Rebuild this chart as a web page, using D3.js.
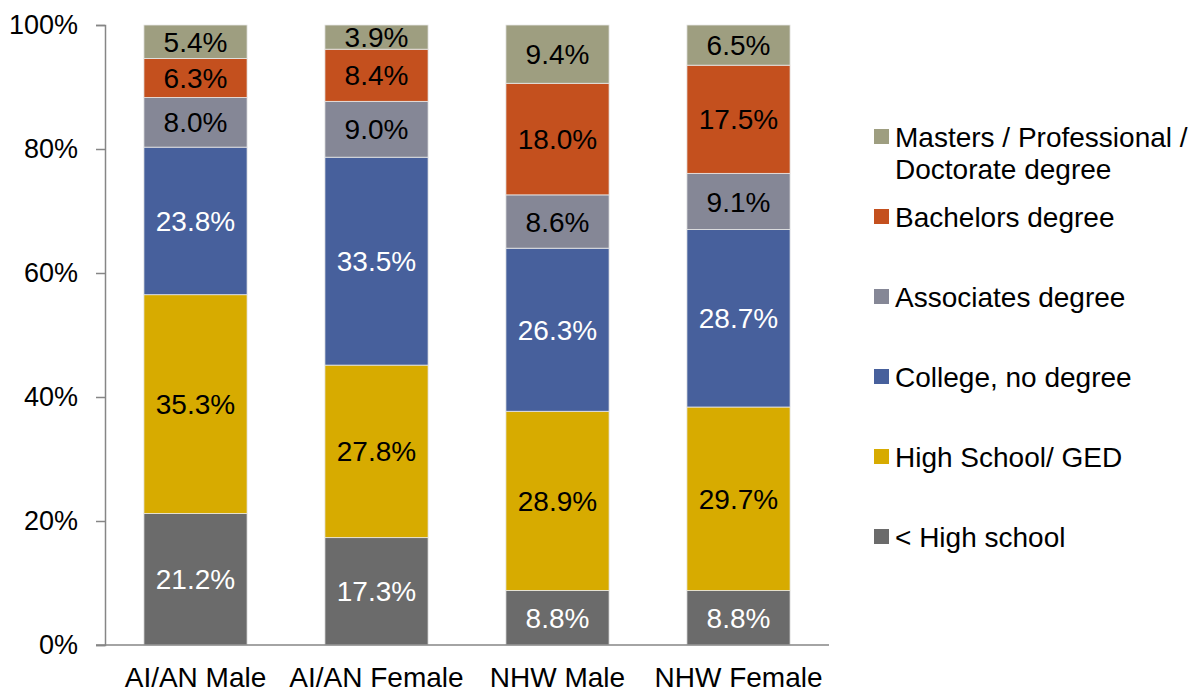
<!DOCTYPE html>
<html>
<head>
<meta charset="utf-8">
<script src="https://cdn.jsdelivr.net/npm/d3@7"></script>
<style>
  body { margin: 0; background: #fff; }
  svg { display: block; font-family: "Liberation Sans", Arial, sans-serif; }
</style>
</head>
<body>
<div id="vis"></div>
<script>
// groups along the x axis
const groups = ["AI/AN Male", "AI/AN Female", "NHW Male", "NHW Female"];
// education levels, bottom to top
const levels = ["< High school", "High School/ GED", "College, no degree",
  "Associates degree", "Bachelors degree", "Masters / Professional / Doctorate degree"];
// percent values per level, in group order
const lessHS     = [21.2, 17.3, 8.8, 8.8];
const highSchool = [35.3, 27.8, 28.9, 29.7];
const college    = [23.8, 33.5, 26.3, 28.7];
const associates = [8.0, 9.0, 8.6, 9.1];
const bachelors  = [6.3, 8.4, 18.0, 17.5];
const masters    = [5.4, 3.9, 9.4, 6.5];
const yTicks = [0, 0.2, 0.4, 0.6, 0.8, 1.0];

const series = [lessHS, highSchool, college, associates, bachelors, masters];
const colors = ["#6b6b6b", "#d7ab00", "#47609c", "#858796", "#c4501e", "#9e9e80"];
const labelColors = ["#fff", "#000", "#fff", "#000", "#000", "#000"];

const width = 1196, height = 692;
const margin = {top: 25, left: 105, bottom: 47};
const plotRight = 829;

// table for d3.stack
const table = groups.map((g, i) => {
  const row = {group: g};
  levels.forEach((l, j) => row[l] = series[j][i]);
  return row;
});

const stacked = d3.stack().keys(levels).offset(d3.stackOffsetExpand)(table);

const x = d3.scaleBand().domain(groups).range([margin.left, plotRight]).paddingInner(0.43).paddingOuter(0.215);
const y = d3.scaleLinear().domain([0, 1]).range([height - margin.bottom, margin.top]);

const svg = d3.select("#vis").append("svg")
    .attr("width", width)
    .attr("height", height);

// bars
const layer = svg.append("g")
  .selectAll("g")
  .data(stacked)
  .join("g")
    .attr("fill", (d, i) => colors[i]);

layer.selectAll("rect")
  .data(d => d)
  .join("rect")
    .attr("x", d => x(d.data.group))
    .attr("width", x.bandwidth())
    .attr("y", d => y(d[1]))
    .attr("height", d => y(d[0]) - y(d[1]))
    .attr("stroke", "#e8e8e8")
    .attr("stroke-width", 0.8);

// value labels
stacked.forEach((s, i) => {
  svg.append("g")
    .selectAll("text")
    .data(s)
    .join("text")
      .attr("x", d => x(d.data.group) + x.bandwidth() / 2)
      .attr("y", d => (y(d[0]) + y(d[1])) / 2)
      .attr("dy", "0.36em")
      .attr("text-anchor", "middle")
      .attr("font-size", 28)
      .attr("fill", labelColors[i])
      .text((d, k) => series[i][k].toFixed(1) + "%");
});

// y axis
const yAxis = svg.append("g")
    .attr("transform", `translate(${margin.left},0)`)
    .call(d3.axisLeft(y).tickValues(yTicks).tickFormat(d3.format(".0%")).tickSizeOuter(0).tickSize(9).tickPadding(18));
yAxis.select(".domain").attr("stroke", "#868686").attr("stroke-width", 1.5);
yAxis.selectAll(".tick line").attr("stroke", "#868686").attr("stroke-width", 1.5);
yAxis.selectAll(".tick text").attr("font-size", 27).attr("fill", "#000").attr("font-family", null);

// x axis
const xAxis = svg.append("g")
    .attr("transform", `translate(0,${y(0)})`)
    .call(d3.axisBottom(x).tickSize(0).tickPadding(22));
xAxis.select(".domain").attr("stroke", "#868686").attr("stroke-width", 1.5)
    .attr("d", `M${margin.left - 9},0H${plotRight}`);
xAxis.selectAll(".tick text").attr("font-size", 28).attr("fill", "#000").attr("font-family", null);

// legend, top entry first
const legendRows = [
  {i: 5, lines: ["Masters / Professional /", "Doctorate degree"], y: 137},
  {i: 4, lines: ["Bachelors degree"], y: 217},
  {i: 3, lines: ["Associates degree"], y: 297},
  {i: 2, lines: ["College, no degree"], y: 377},
  {i: 1, lines: ["High School/ GED"], y: 457},
  {i: 0, lines: ["< High school"], y: 537}
];
const legend = svg.append("g");
legendRows.forEach(r => {
  legend.append("rect")
    .attr("x", 874).attr("y", r.y - 8)
    .attr("width", 15).attr("height", 15)
    .attr("fill", colors[r.i]);
  const t = legend.append("text")
    .attr("x", 895).attr("y", r.y)
    .attr("font-size", 28)
    .attr("fill", "#000");
  r.lines.forEach((ln, k) => {
    t.append("tspan").attr("x", 895).attr("dy", k === 0 ? "0.36em" : 32).text(ln);
  });
});
</script>
</body>
</html>
